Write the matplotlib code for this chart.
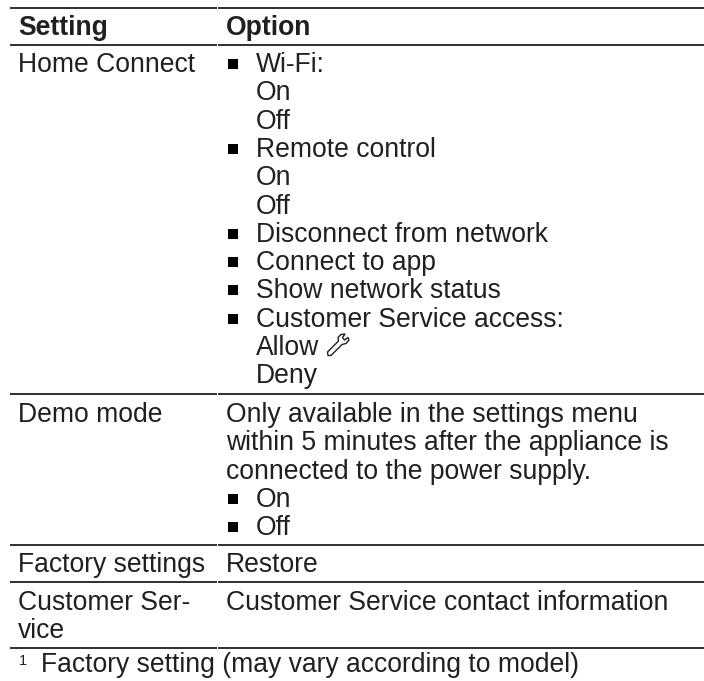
import matplotlib
matplotlib.use("Agg")
import matplotlib.pyplot as plt

W, H = 704, 681

header = ["Setting", "Option"]
settings = ["Home Connect", "Demo mode", "Factory settings", "Customer Ser-", "vice"]
# (text, bullet?) per line of the option column
home_opts = [("Wi-Fi:", 1), ("On", 0), ("Off", 0), ("Remote control", 1), ("On", 0), ("Off", 0),
             ("Disconnect from network", 1), ("Connect to app", 1), ("Show network status", 1),
             ("Customer Service access:", 1), ("Allow", 0), ("Deny", 0)]
demo_text = ["Only available in the settings menu", "within 5 minutes after the appliance is",
             "connected to the power supply."]
demo_opts = ["On", "Off"]
footnote = "Factory setting (may vary according to model)"

plt.rcParams['font.family'] = ['Liberation Sans', 'DejaVu Sans']
fig = plt.figure(figsize=(W / 100, H / 100), dpi=100)
ax = fig.add_axes([0, 0, 1, 1])
ax.set_xlim(0, W)
ax.set_ylim(H, 0)
ax.axis('off')

FS = 19.1
LH = 28.3
COL = '#231f20'
XL, XR, XB = 18, 226, 256

def hline(y, lw=1.3):
    ax.plot([10, 216.5], [y, y], color=COL, lw=lw, solid_capstyle='butt')
    ax.plot([217.5, 704], [y, y], color=COL, lw=lw, solid_capstyle='butt')

def put(x, y, s, **kw):
    ax.text(x, y, s, fontsize=FS, va='baseline', ha='left', color=COL, **kw)

def bullet(y):
    ax.plot([233], [y - 8], marker='s', ms=7.2, color='black', mew=0)

hline(7.5)
put(XL, 35, header[0], fontweight='bold')
put(XR, 35, header[1], fontweight='bold')
hline(44.5)

put(XL, 72, settings[0])
for k, (t, b) in enumerate(home_opts):
    y = 72 + k * LH
    if b:
        bullet(y)
    put(XB, y, t)
# outlined spanner after "Allow"
sx = [327.5, 338.5, 338, 341, 345, 342.5, 344.5, 348, 349, 346, 342, 331, 328]
sy = [352, 341, 337.5, 334.5, 334, 337.5, 340, 337.5, 340, 343.5, 344.5, 355.5, 355.5]
ax.fill(sx, sy, facecolor='white', edgecolor=COL, lw=1.0, joinstyle='round')
hline(394)

put(XL, 422, settings[1])
for k, t in enumerate(demo_text):
    put(XR, 422 + k * LH, t)
for k, t in enumerate(demo_opts):
    y = 422 + (k + 3) * LH
    bullet(y)
    put(XB, y, t)
hline(545)

put(XL, 572, settings[2])
put(XR, 572, "Restore")
hline(582)

put(XL, 610, settings[3])
put(XL, 638, settings[4])
put(XR, 610, "Customer Service contact information")
hline(648)

ax.text(19, 665, "1", fontsize=10.5, va='baseline', ha='left', color=COL)
put(41, 672, footnote)
fig.savefig('out.png', dpi=100)
